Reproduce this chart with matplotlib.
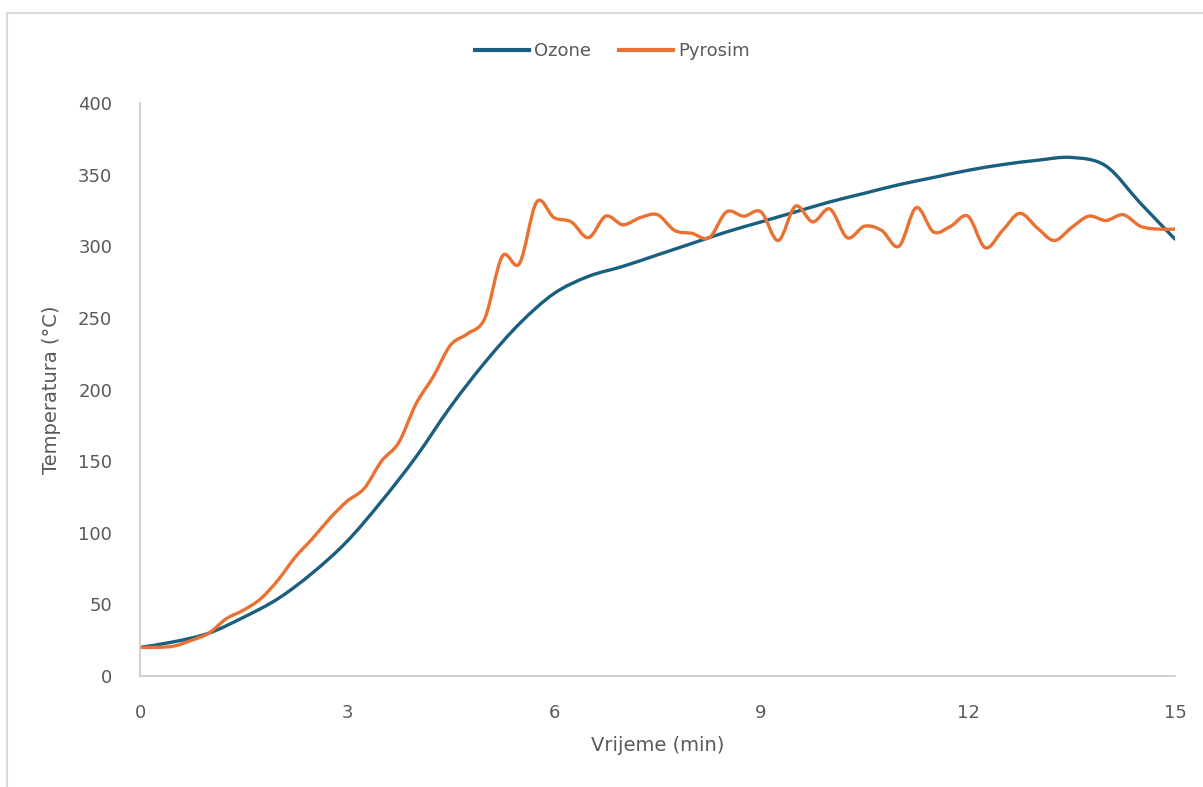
import matplotlib
matplotlib.use("Agg")
import matplotlib.pyplot as plt
import numpy as np
from matplotlib.path import Path
from matplotlib.patches import PathPatch
from matplotlib.lines import Line2D

# Ozone (blue), every 0.5 min
ozone_t = [0, 0.5, 1, 1.5, 2, 2.5, 3, 3.5, 4, 4.5, 5, 5.5, 6, 6.5, 7, 7.5,
           8, 8.5, 9, 9.5, 10, 10.5, 11, 11.5, 12, 12.5, 13, 13.5, 14, 14.5, 15]
ozone_temp = [20, 24, 30, 41, 54, 72, 94, 122, 153, 188, 219, 246, 267, 279, 286, 294,
              302, 310, 317, 324, 331, 337, 343, 348, 353, 357, 360, 362, 356, 330, 305]

# Pyrosim (orange), every 0.25 min
pyrosim_t = [i * 0.25 for i in range(61)]
pyrosim_temp = [20, 20, 21, 25, 30, 40, 46, 54, 67, 83, 96, 110, 122, 131, 150, 163,
                190, 209, 231, 239, 250, 293, 288, 331, 320, 317, 306, 321, 315, 320, 322, 311,
                309, 306, 324, 321, 324, 304, 328, 317, 326, 306, 314, 311, 300, 327, 310, 314,
                321, 299, 311, 323, 313, 304, 313, 321, 318, 322, 314, 312, 312]

x_ticks = [0, 3, 6, 9, 12, 15]
y_ticks = [0, 50, 100, 150, 200, 250, 300, 350, 400]

BLUE = "#1B5F80"
ORANGE = "#E97132"
TEXT = "#595959"
AXIS = "#C8C8C8"


def smooth_path(x, y):
    """Bezier path through the points (like Excel's smoothed line)"""
    pts = np.column_stack([x, y]).astype(float)
    n = len(pts)
    verts = [pts[0]]
    codes = [Path.MOVETO]
    for i in range(n - 1):
        p0 = pts[i - 1] if i > 0 else pts[i]
        p1 = pts[i]
        p2 = pts[i + 1]
        p3 = pts[i + 2] if i + 2 < n else pts[i + 1]
        c1 = p1 + (p2 - p0) / 6
        c2 = p2 - (p3 - p1) / 6
        verts += [c1, c2, p2]
        codes += [Path.CURVE4] * 3
    return Path(verts, codes)


fig = plt.figure(figsize=(12.03, 7.87), dpi=100)
ax = fig.add_axes([0.1164, 0.1410, 0.8603, 0.7281])

for xs, ys, col in [(ozone_t, ozone_temp, BLUE), (pyrosim_t, pyrosim_temp, ORANGE)]:
    patch = PathPatch(smooth_path(xs, ys), facecolor="none", edgecolor=col,
                      lw=2.4, capstyle="round", joinstyle="round")
    ax.add_patch(patch)

ax.set_xlim(0, 15)
ax.set_ylim(0, 400)
ax.set_xticks(x_ticks)
ax.set_yticks(y_ticks)
ax.tick_params(length=0, labelsize=13, labelcolor=TEXT)
ax.tick_params(axis="x", pad=20)
ax.tick_params(axis="y", pad=20)

for s in ["top", "right"]:
    ax.spines[s].set_visible(False)
for s in ["left", "bottom"]:
    ax.spines[s].set_color(AXIS)
    ax.spines[s].set_linewidth(1.2)

ax.set_xlabel("Vrijeme (min)", fontsize=14, color=TEXT, labelpad=10)
ax.set_ylabel("Temperatura (°C)", fontsize=14, color=TEXT, labelpad=12)

handles = [Line2D([], [], color=BLUE, lw=3), Line2D([], [], color=ORANGE, lw=3)]
fig.legend(handles, ["Ozone", "Pyrosim"], loc="center", bbox_to_anchor=(0.509, 0.935),
           ncol=2, frameon=False, fontsize=13, labelcolor=TEXT,
           handlelength=3.0, handletextpad=0.3, columnspacing=1.5)

# chart area border (top and left edges visible)
fig.add_artist(Line2D([7 / 1203, 1], [1 - 13 / 787, 1 - 13 / 787], color="#D9D9D9", lw=1.5))
fig.add_artist(Line2D([7 / 1203, 7 / 1203], [0, 1 - 13 / 787], color="#D9D9D9", lw=1.5))

plt.savefig("out.png", dpi=100)
